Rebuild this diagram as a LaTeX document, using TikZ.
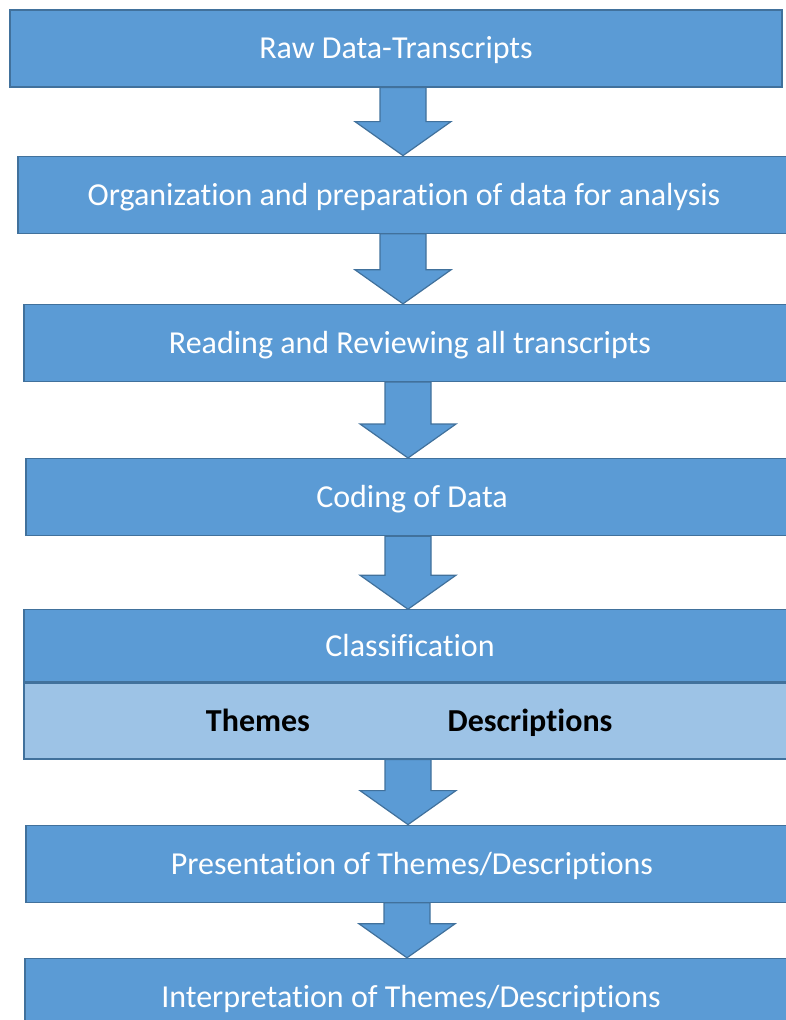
\documentclass[tikz,border=0pt]{standalone}
\usepackage{fontspec}
\setmainfont{Carlito}[Ligatures=NoCommon]
\usetikzlibrary{positioning, calc}

\definecolor{boxblue}{HTML}{5B9BD5}
\definecolor{edgeblue}{HTML}{41719C}
\definecolor{bandblue}{HTML}{9DC3E6}

\tikzset{
  stagebox/.style={draw=edgeblue, line width=1.2pt, fill=boxblue,
                   minimum width=772pt, minimum height=77pt, inner sep=0pt,
                   text height=20.6pt, text depth=0pt,
                   text=white, font=\fontsize{32}{38}\selectfont},
  bandbox/.style={stagebox, fill=bandblue, minimum height=76pt},
  bandtext/.style={inner sep=0pt, text=black,
                   text height=20.6pt, text depth=0pt,
                   font=\fontsize{32}{38}\selectfont\bfseries},
  blockarrow/.style={draw=edgeblue, line width=1.2pt, fill=boxblue,
                     line join=miter}
}

% block arrow from the bottom of #1 to the top of #2, at x = #3
\newcommand{\stagearrow}[3]{%
  \path[blockarrow] let \p1=(#1.south), \p2=(#2.north) in
    (#3pt-23pt,\y1) -- (#3pt+23pt,\y1) -- (#3pt+23pt,\y2+34pt)
    -- (#3pt+48pt,\y2+34pt) -- (#3pt,\y2) -- (#3pt-48pt,\y2+34pt)
    -- (#3pt-23pt,\y2+34pt) -- cycle;}

\begin{document}
\begin{tikzpicture}
  \useasboundingbox (0,0) rectangle (786pt,-1020pt);
  \clip (0,0) rectangle (786pt,-1020pt);

  \node[stagebox] (raw) at (396pt,-48.5pt) {Raw Data-Transcripts};
  \node[stagebox, below=68pt of raw, xshift=8pt] (organize)
    {Organization and preparation of data for analysis};
  \node[stagebox, below=70pt of organize, xshift=6pt] (review)
    {Reading and Reviewing all transcripts};
  \node[stagebox, below=76pt of review, xshift=2pt] (coding)
    {Coding of Data};
  \node[stagebox, minimum height=72pt, below=73pt of coding, xshift=-2pt]
    (classify) {Classification};
  \node[bandbox, below=0pt of classify] (band) {};
  \node[bandtext] (themes) at ([xshift=-152pt]band.center) {Themes};
  \node[bandtext] (descr) at ([xshift=120pt]band.center) {Descriptions};
  \node[stagebox, below=65pt of band, xshift=2pt] (present)
    {Presentation of Themes/Descriptions};
  \node[stagebox, below=55pt of present, xshift=-1pt] (interpret)
    {Interpretation of Themes/Descriptions};

  \stagearrow{raw}{organize}{403}
  \stagearrow{organize}{review}{403}
  \stagearrow{review}{coding}{408}
  \stagearrow{coding}{classify}{408}
  \stagearrow{band}{present}{408}
  \stagearrow{present}{interpret}{407}
\end{tikzpicture}
\end{document}
